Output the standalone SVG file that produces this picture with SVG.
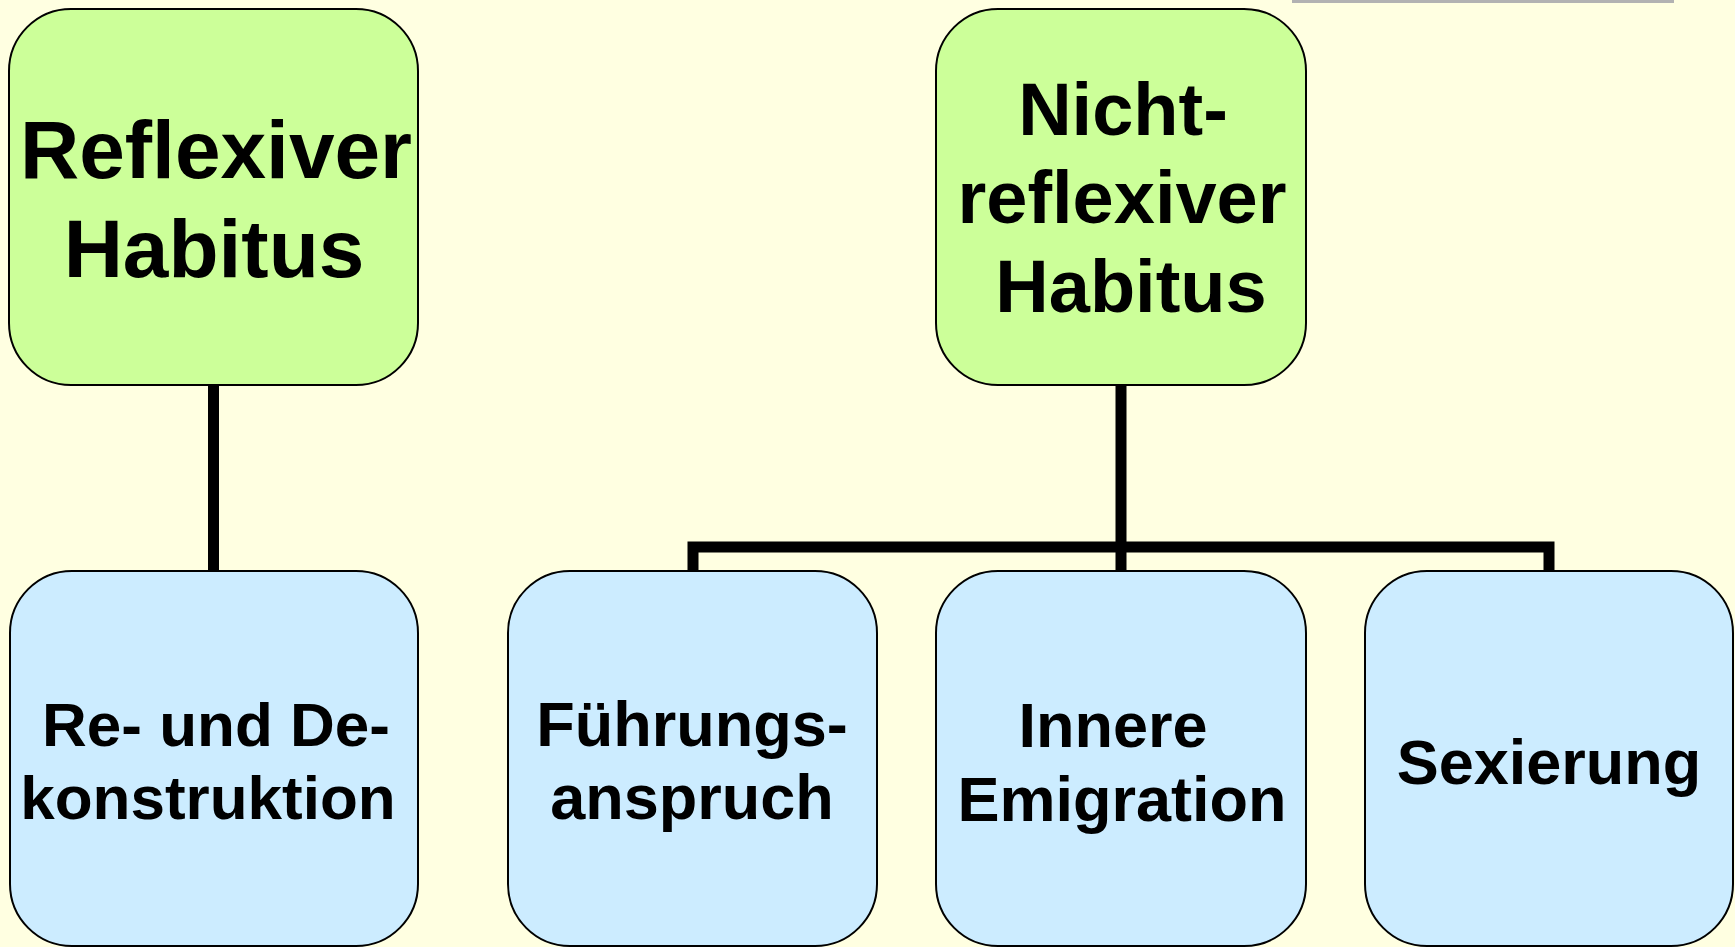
<svg xmlns="http://www.w3.org/2000/svg" width="1735" height="947" viewBox="0 0 1735 947">
<style>
.bg{fill:#FFFFE1}
.g{fill:#CCFF99;stroke:#000;stroke-width:2}
.b{fill:#CCECFF;stroke:#000;stroke-width:2}
.t{font-family:"Liberation Sans",Arial,sans-serif;font-weight:bold;fill:#000;text-anchor:middle}
.big{font-size:82px}
.mid{font-size:74px}
.sm{font-size:62px}
.sm2{font-size:63px}
.c{fill:none;stroke:#000;stroke-width:11;stroke-linejoin:miter;stroke-linecap:butt}
</style>
<rect class="bg" x="0" y="0" width="1735" height="947"/>
<rect x="1292" y="0" width="382" height="3" fill="#B2B2B2"/>
<g id="connectors">
<path class="c" d="M213.5,385 V571"/>
<path class="c" d="M1121,385 V571"/>
<path class="c" d="M693,571 V547 H1549 V571"/>
</g>
<g id="reflexiver">
<rect class="g" x="9" y="9" width="409" height="376" rx="62" ry="62"/>
<text class="t big" x="216" y="178">Reflexiver</text>
<text class="t big" x="214" y="277">Habitus</text>
</g>
<g id="nichtreflexiver">
<rect class="g" x="936" y="9" width="370" height="376" rx="62" ry="62"/>
<text class="t mid" x="1123" y="135">Nicht-</text>
<text class="t mid" x="1122" y="223">reflexiver</text>
<text class="t mid" x="1131" y="312">Habitus</text>
</g>
<g id="rekonstruktion">
<rect class="b" x="10" y="571" width="408" height="375" rx="62" ry="62"/>
<text class="t sm" x="216" y="746">Re- und De-</text>
<text class="t sm" x="208" y="819">konstruktion</text>
</g>
<g id="fuehrungsanspruch">
<rect class="b" x="508" y="571" width="369" height="375" rx="62" ry="62"/>
<text class="t sm2" x="692" y="746">Führungs-</text>
<text class="t sm2" x="692" y="819">anspruch</text>
</g>
<g id="emigration">
<rect class="b" x="936" y="571" width="370" height="375" rx="62" ry="62"/>
<text class="t sm2" x="1113" y="747">Innere</text>
<text class="t sm2" x="1122" y="821">Emigration</text>
</g>
<g id="sexierung">
<rect class="b" x="1365" y="571" width="368" height="375" rx="62" ry="62"/>
<text class="t sm2" x="1549" y="784">Sexierung</text>
</g>
</svg>
